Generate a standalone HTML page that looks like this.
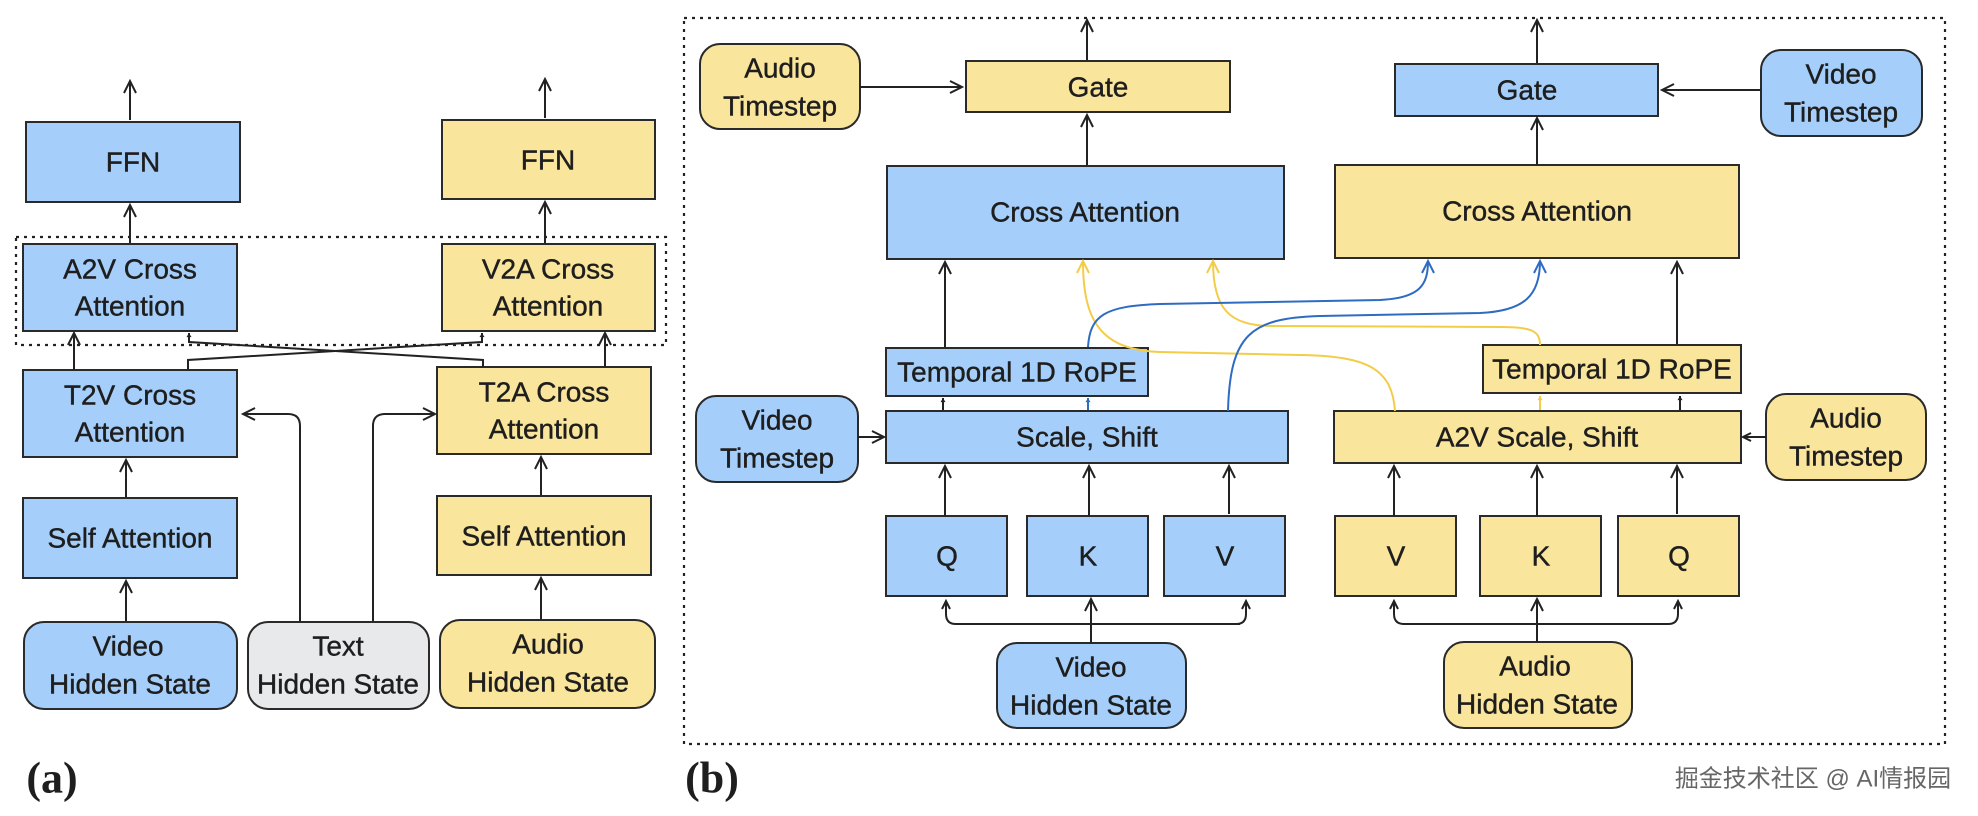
<!DOCTYPE html>
<html><head><meta charset="utf-8"><style>
html,body{margin:0;padding:0;background:#fff;}
svg{display:block;}
text{font-family:"Liberation Sans","DejaVu Sans",sans-serif;fill:#1e1e1e;font-size:28px;text-anchor:middle;dominant-baseline:central;stroke:#1e1e1e;stroke-width:0.4px;}
.b{fill:#a5cffa;stroke:#2a2a2a;stroke-width:2;}
.y{fill:#f9e59c;stroke:#2a2a2a;stroke-width:2;}
.g{fill:#e8e9eb;stroke:#2a2a2a;stroke-width:2;}
.l{fill:none;stroke:#222;stroke-width:2;}
.bl{fill:none;stroke:#2e6cc2;stroke-width:2;}
.yl{fill:none;stroke:#f3cc48;stroke-width:2;}
.d{fill:none;stroke:#222;stroke-width:2.2;stroke-dasharray:3,5;}
</style></head><body>
<svg width="1978" height="816" viewBox="0 0 1978 816" xmlns="http://www.w3.org/2000/svg">
<defs>
<marker id="a" viewBox="-14 -8 16 16" refX="0" refY="0" markerWidth="16" markerHeight="16" markerUnits="userSpaceOnUse" orient="auto"><path d="M-12,-6 L0,0 L-12,6" fill="none" stroke="#222" stroke-width="2"/></marker>
<marker id="m" viewBox="-10 -6 12 12" refX="0" refY="0" markerWidth="12" markerHeight="12" markerUnits="userSpaceOnUse" orient="auto"><path d="M-8,-4 L0,0 L-8,4" fill="none" stroke="#222" stroke-width="2"/></marker>
<marker id="ab" viewBox="-14 -8 16 16" refX="0" refY="0" markerWidth="16" markerHeight="16" markerUnits="userSpaceOnUse" orient="auto"><path d="M-12,-6 L0,0 L-12,6" fill="none" stroke="#2e6cc2" stroke-width="2"/></marker>
<marker id="ay" viewBox="-14 -8 16 16" refX="0" refY="0" markerWidth="16" markerHeight="16" markerUnits="userSpaceOnUse" orient="auto"><path d="M-12,-6 L0,0 L-12,6" fill="none" stroke="#f3cc48" stroke-width="2"/></marker>
<marker id="s" viewBox="-6 -6 8 12" refX="0" refY="0" markerWidth="8" markerHeight="10" markerUnits="userSpaceOnUse" orient="auto"><path d="M-5,-3 L0,0 L-5,3 z" fill="#222"/></marker>
<marker id="sb" viewBox="-6 -6 8 12" refX="0" refY="0" markerWidth="8" markerHeight="10" markerUnits="userSpaceOnUse" orient="auto"><path d="M-5,-3 L0,0 L-5,3 z" fill="#2e6cc2"/></marker>
<marker id="sy" viewBox="-6 -6 8 12" refX="0" refY="0" markerWidth="8" markerHeight="10" markerUnits="userSpaceOnUse" orient="auto"><path d="M-5,-3 L0,0 L-5,3 z" fill="#f3cc48"/></marker>
</defs>

<!-- ===== (a) ===== -->
<rect class="d" x="16" y="237" width="650" height="108"/>
<rect class="b" x="26" y="122" width="214" height="80"/><text x="133" y="162">FFN</text>
<rect class="y" x="442" y="120" width="213" height="79"/><text x="548" y="160">FFN</text>
<rect class="b" x="23" y="244" width="214" height="87"/><text x="130" y="269">A2V Cross</text><text x="130" y="306">Attention</text>
<rect class="y" x="442" y="244" width="213" height="87"/><text x="548" y="269">V2A Cross</text><text x="548" y="306">Attention</text>
<rect class="b" x="23" y="370" width="214" height="87"/><text x="130" y="395">T2V Cross</text><text x="130" y="432">Attention</text>
<rect class="y" x="437" y="367" width="214" height="87"/><text x="544" y="392">T2A Cross</text><text x="544" y="429">Attention</text>
<rect class="b" x="23" y="498" width="214" height="80"/><text x="130" y="538">Self Attention</text>
<rect class="y" x="437" y="496" width="214" height="79"/><text x="544" y="536">Self Attention</text>
<rect class="b" x="24" y="622" width="213" height="87" rx="20"/><text x="128" y="646">Video</text><text x="130" y="684">Hidden State</text>
<rect class="g" x="248" y="622" width="181" height="87" rx="20"/><text x="338" y="646">Text</text><text x="338" y="684">Hidden State</text>
<rect class="y" x="440" y="620" width="215" height="88" rx="20"/><text x="548" y="644">Audio</text><text x="548" y="682">Hidden State</text>

<line class="l" x1="130" y1="120" x2="130" y2="81" marker-end="url(#a)"/>
<line class="l" x1="545" y1="118" x2="545" y2="79" marker-end="url(#a)"/>
<line class="l" x1="130" y1="243" x2="130" y2="205" marker-end="url(#a)"/>
<line class="l" x1="545" y1="243" x2="545" y2="202" marker-end="url(#a)"/>
<line class="l" x1="74" y1="370" x2="74" y2="333" marker-end="url(#a)"/>
<line class="l" x1="605" y1="367" x2="605" y2="333" marker-end="url(#a)"/>
<line class="l" x1="126" y1="497" x2="126" y2="460" marker-end="url(#a)"/>
<line class="l" x1="541" y1="495" x2="541" y2="457" marker-end="url(#a)"/>
<line class="l" x1="126" y1="621" x2="126" y2="581" marker-end="url(#a)"/>
<line class="l" x1="541" y1="619" x2="541" y2="578" marker-end="url(#a)"/>
<polyline class="l" points="188,370 188,360 482,342 482,333" marker-end="url(#s)"/>
<polyline class="l" points="483,367 483,360 189,342 189,333" marker-end="url(#s)"/>
<path class="l" d="M300,621 L300,426 Q300,414 288,414 L243,414" marker-end="url(#a)"/>
<path class="l" d="M373,621 L373,426 Q373,414 385,414 L435,414" marker-end="url(#a)"/>
<text x="52" y="778" style="font-family:'Liberation Serif',serif;font-weight:bold;font-size:44px;stroke:none;">(a)</text>

<!-- ===== (b) ===== -->
<rect class="d" x="684" y="18" width="1261" height="726"/>
<rect class="y" x="700" y="44" width="160" height="85" rx="20"/><text x="780" y="68">Audio</text><text x="780" y="106">Timestep</text>
<rect class="y" x="966" y="61" width="264" height="51"/><text x="1098" y="87">Gate</text>
<rect class="b" x="887" y="166" width="397" height="93"/><text x="1085" y="212">Cross Attention</text>
<rect class="b" x="886" y="348" width="262" height="48"/><text x="1017" y="372">Temporal 1D RoPE</text>
<rect class="b" x="696" y="396" width="162" height="86" rx="20"/><text x="777" y="420">Video</text><text x="777" y="458">Timestep</text>
<rect class="b" x="886" y="411" width="402" height="52"/><text x="1087" y="437">Scale, Shift</text>
<rect class="b" x="886" y="516" width="121" height="80"/><text x="947" y="556">Q</text>
<rect class="b" x="1027" y="516" width="121" height="80"/><text x="1088" y="556">K</text>
<rect class="b" x="1164" y="516" width="121" height="80"/><text x="1225" y="556">V</text>
<rect class="b" x="997" y="643" width="189" height="85" rx="20"/><text x="1091" y="667">Video</text><text x="1091" y="705">Hidden State</text>

<rect class="b" x="1395" y="64" width="263" height="52"/><text x="1527" y="90">Gate</text>
<rect class="b" x="1761" y="50" width="161" height="86" rx="20"/><text x="1841" y="74">Video</text><text x="1841" y="112">Timestep</text>
<rect class="y" x="1335" y="165" width="404" height="93"/><text x="1537" y="211">Cross Attention</text>
<rect class="y" x="1483" y="345" width="258" height="48"/><text x="1612" y="369">Temporal 1D RoPE</text>
<rect class="y" x="1334" y="411" width="407" height="52"/><text x="1537" y="437">A2V Scale, Shift</text>
<rect class="y" x="1766" y="394" width="160" height="86" rx="20"/><text x="1846" y="418">Audio</text><text x="1846" y="456">Timestep</text>
<rect class="y" x="1335" y="516" width="121" height="80"/><text x="1396" y="556">V</text>
<rect class="y" x="1480" y="516" width="121" height="80"/><text x="1541" y="556">K</text>
<rect class="y" x="1618" y="516" width="121" height="80"/><text x="1679" y="556">Q</text>
<rect class="y" x="1444" y="642" width="188" height="86" rx="20"/><text x="1535" y="666">Audio</text><text x="1537" y="704">Hidden State</text>

<!-- left arrows -->
<line class="l" x1="1087" y1="60" x2="1087" y2="20" marker-end="url(#a)"/>
<line class="l" x1="860" y1="87" x2="962" y2="87" marker-end="url(#a)"/>
<line class="l" x1="1087" y1="165" x2="1087" y2="115" marker-end="url(#a)"/>
<line class="l" x1="945" y1="347" x2="945" y2="262" marker-end="url(#a)"/>
<line class="l" x1="943" y1="410" x2="943" y2="398" marker-end="url(#s)"/>
<line class="bl" x1="1088" y1="410" x2="1088" y2="398" marker-end="url(#sb)"/>
<line class="l" x1="858" y1="437" x2="884" y2="437" marker-end="url(#a)"/>
<line class="l" x1="945" y1="516" x2="945" y2="466" marker-end="url(#a)"/>
<line class="l" x1="1089" y1="516" x2="1089" y2="466" marker-end="url(#a)"/>
<line class="l" x1="1229" y1="514" x2="1229" y2="466" marker-end="url(#a)"/>
<path class="l" d="M1091,643 L1091,624 M956,624 L1240,624 M956,624 Q946,624 946,614 L946,601" marker-end="url(#m)"/>
<path class="l" d="M1236,624 Q1246,624 1246,614 L1246,601" marker-end="url(#m)"/>
<line class="l" x1="1091" y1="630" x2="1091" y2="599" marker-end="url(#a)"/>
<!-- right arrows -->
<line class="l" x1="1537" y1="63" x2="1537" y2="20" marker-end="url(#a)"/>
<line class="l" x1="1761" y1="90" x2="1662" y2="90" marker-end="url(#a)"/>
<line class="l" x1="1537" y1="165" x2="1537" y2="118" marker-end="url(#a)"/>
<line class="l" x1="1677" y1="344" x2="1677" y2="262" marker-end="url(#a)"/>
<line class="yl" x1="1540" y1="410" x2="1540" y2="396" marker-end="url(#sy)"/>
<line class="l" x1="1680" y1="410" x2="1680" y2="396" marker-end="url(#s)"/>
<line class="l" x1="1766" y1="437" x2="1743" y2="437" marker-end="url(#m)"/>
<line class="l" x1="1394" y1="516" x2="1394" y2="466" marker-end="url(#a)"/>
<line class="l" x1="1537" y1="516" x2="1537" y2="466" marker-end="url(#a)"/>
<line class="l" x1="1677" y1="514" x2="1677" y2="466" marker-end="url(#a)"/>
<path class="l" d="M1537,642 L1537,624 M1404,624 L1668,624 M1404,624 Q1394,624 1394,614 L1394,601" marker-end="url(#m)"/>
<path class="l" d="M1668,624 Q1678,624 1678,614 L1678,601" marker-end="url(#m)"/>
<line class="l" x1="1537" y1="630" x2="1537" y2="599" marker-end="url(#a)"/>

<!-- curves -->
<path class="yl" d="M1395,411 C1392,370 1370,356 1300,355 L1160,352 C1100,350 1083,320 1083,261" marker-end="url(#ay)"/>
<path class="yl" d="M1540,345 C1540,330 1530,327 1500,327 L1270,326 C1230,325 1213,310 1213,261" marker-end="url(#ay)"/>
<path class="bl" d="M1088,347 C1090,315 1105,306 1160,304 L1380,300 C1420,298 1428,285 1428,261" marker-end="url(#ab)"/>
<path class="bl" d="M1228,411 C1230,335 1250,318 1320,316 L1480,313 C1525,311 1540,295 1540,261" marker-end="url(#ab)"/>

<text x="712" y="778" style="font-family:'Liberation Serif',serif;font-weight:bold;font-size:44px;stroke:none;">(b)</text>
<text x="1813" y="779" style="font-family:'Liberation Sans','Noto Sans CJK SC',sans-serif;font-size:24px;fill:#666;stroke:none;">掘金技术社区 @ AI情报园</text>
</svg>
</body></html>
